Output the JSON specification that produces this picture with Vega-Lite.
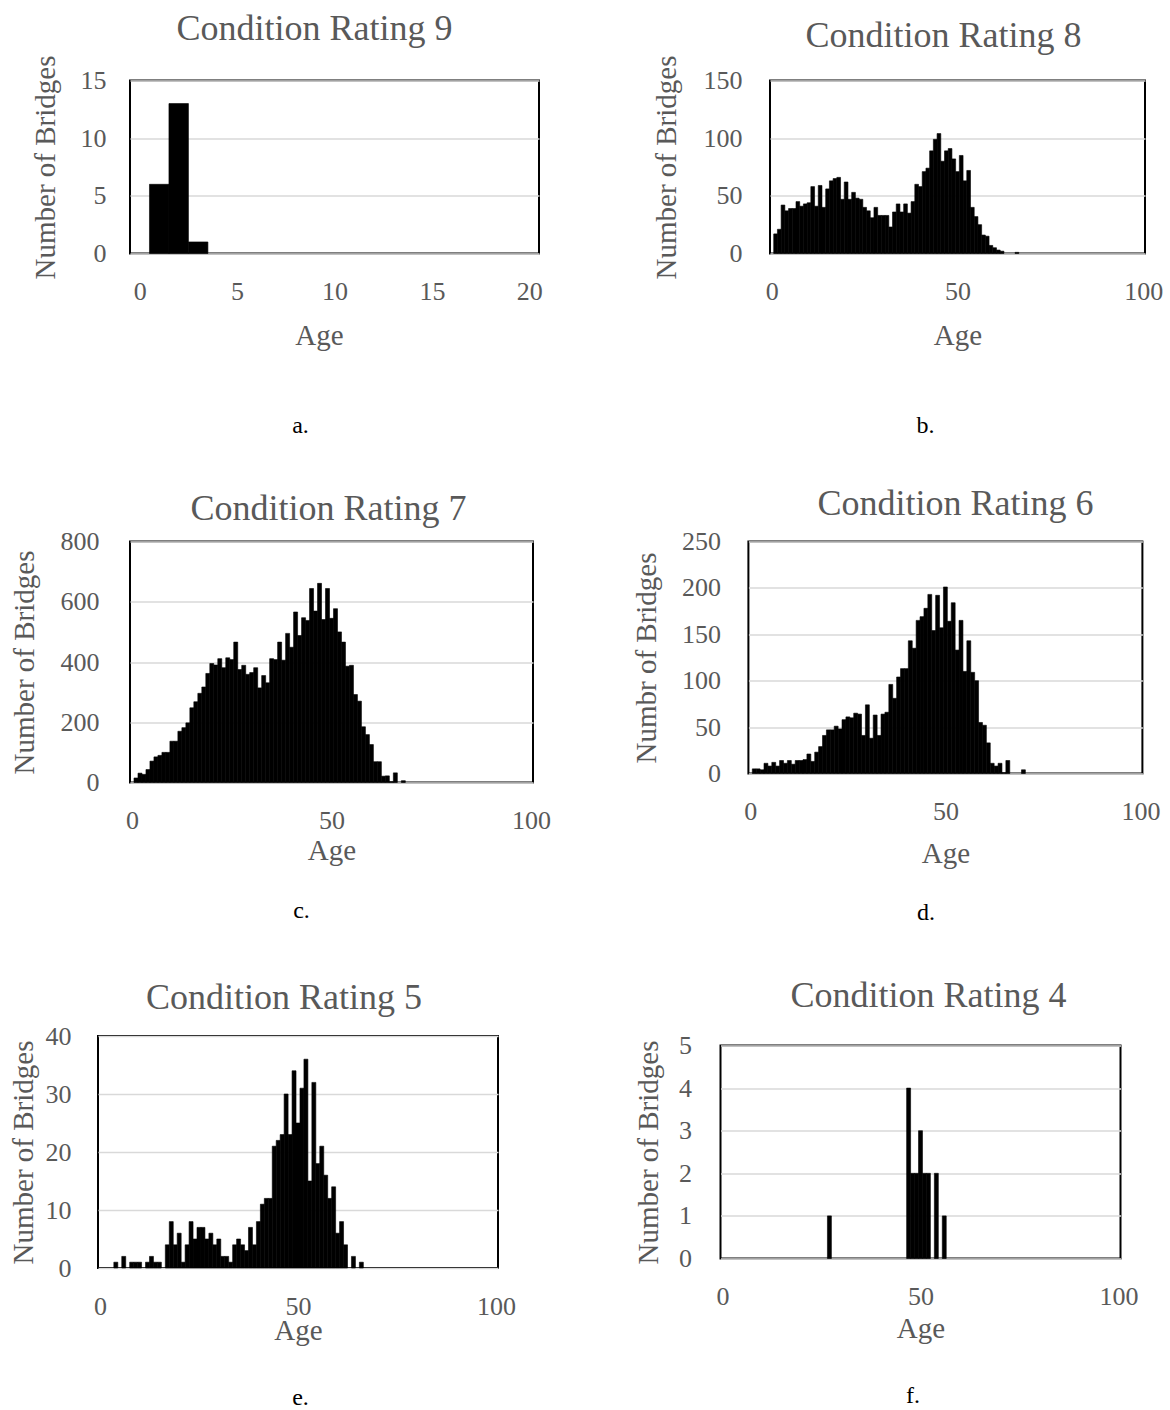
{
  "$schema": "https://vega.github.io/schema/vega-lite/v6.json",
  "background": "white",
  "padding": {"left": 0, "top": 9.5, "right": 0, "bottom": 0},
  "config": {
    "font": "Liberation Serif",
    "view": {"stroke": "#000", "strokeWidth": 2},
    "title": {"font": "Liberation Serif", "fontSize": 36, "fontWeight": "normal", "color": "#595959", "frame": "group", "anchor": "middle", "baseline": "alphabetic"},
    "axis": {"labelFont": "Liberation Serif", "titleFont": "Liberation Serif", "labelColor": "#595959", "titleColor": "#595959", "labelFontSize": 26, "titleFontSize": 29, "titleFontWeight": "normal", "ticks": false, "tickSize": 0, "domain": false, "grid": false, "labelFlush": false, "labelOverlap": false},
    "axisY": {"grid": true, "gridColor": "#d9d9d9", "gridWidth": 1.5, "titlePadding": 0}
  },
  "datasets": {
    "r9": [{"age":1,"count":6},{"age":2,"count":13},{"age":3,"count":1}],
    "r8": [{"age":1,"count":17},{"age":2,"count":21},{"age":3,"count":42},{"age":4,"count":37},{"age":5,"count":39},{"age":6,"count":39},{"age":7,"count":45},{"age":8,"count":41},{"age":9,"count":43},{"age":10,"count":44},{"age":11,"count":58},{"age":12,"count":41},{"age":13,"count":59},{"age":14,"count":40},{"age":15,"count":56},{"age":16,"count":63},{"age":17,"count":65},{"age":18,"count":66},{"age":19,"count":47},{"age":20,"count":62},{"age":21,"count":47},{"age":22,"count":53},{"age":23,"count":48},{"age":24,"count":47},{"age":25,"count":40},{"age":26,"count":37},{"age":27,"count":31},{"age":28,"count":40},{"age":29,"count":33},{"age":30,"count":33},{"age":31,"count":33},{"age":32,"count":23},{"age":33,"count":36},{"age":34,"count":43},{"age":35,"count":36},{"age":36,"count":43},{"age":37,"count":35},{"age":38,"count":45},{"age":39,"count":60},{"age":40,"count":58},{"age":41,"count":71},{"age":42,"count":74},{"age":43,"count":89},{"age":44,"count":99},{"age":45,"count":104},{"age":46,"count":80},{"age":47,"count":89},{"age":48,"count":91},{"age":49,"count":82},{"age":50,"count":71},{"age":51,"count":85},{"age":52,"count":63},{"age":53,"count":72},{"age":54,"count":40},{"age":55,"count":32},{"age":56,"count":25},{"age":57,"count":16},{"age":58,"count":15},{"age":59,"count":7},{"age":60,"count":5},{"age":61,"count":3},{"age":62,"count":2},{"age":66,"count":1}],
    "r7": [{"age":1,"count":15},{"age":2,"count":31},{"age":3,"count":27},{"age":4,"count":43},{"age":5,"count":71},{"age":6,"count":85},{"age":7,"count":90},{"age":8,"count":100},{"age":9,"count":100},{"age":10,"count":137},{"age":11,"count":137},{"age":12,"count":170},{"age":13,"count":182},{"age":14,"count":198},{"age":15,"count":248},{"age":16,"count":268},{"age":17,"count":296},{"age":18,"count":317},{"age":19,"count":362},{"age":20,"count":395},{"age":21,"count":390},{"age":22,"count":411},{"age":23,"count":381},{"age":24,"count":414},{"age":25,"count":408},{"age":26,"count":466},{"age":27,"count":375},{"age":28,"count":389},{"age":29,"count":359},{"age":30,"count":365},{"age":31,"count":381},{"age":32,"count":314},{"age":33,"count":355},{"age":34,"count":331},{"age":35,"count":411},{"age":36,"count":408},{"age":37,"count":466},{"age":38,"count":406},{"age":39,"count":495},{"age":40,"count":449},{"age":41,"count":566},{"age":42,"count":488},{"age":43,"count":547},{"age":44,"count":538},{"age":45,"count":644},{"age":46,"count":569},{"age":47,"count":661},{"age":48,"count":541},{"age":49,"count":644},{"age":50,"count":545},{"age":51,"count":577},{"age":52,"count":500},{"age":53,"count":466},{"age":54,"count":386},{"age":55,"count":389},{"age":56,"count":292},{"age":57,"count":270},{"age":58,"count":185},{"age":59,"count":159},{"age":60,"count":126},{"age":61,"count":69},{"age":62,"count":69},{"age":63,"count":21},{"age":64,"count":22},{"age":65,"count":3},{"age":66,"count":32},{"age":68,"count":6}],
    "r6": [{"age":1,"count":5},{"age":2,"count":5},{"age":3,"count":4},{"age":4,"count":11},{"age":5,"count":8},{"age":6,"count":12},{"age":7,"count":8},{"age":8,"count":14},{"age":9,"count":11},{"age":10,"count":14},{"age":11,"count":10},{"age":12,"count":14},{"age":13,"count":14},{"age":14,"count":15},{"age":15,"count":21},{"age":16,"count":13},{"age":17,"count":23},{"age":18,"count":29},{"age":19,"count":41},{"age":20,"count":47},{"age":21,"count":47},{"age":22,"count":51},{"age":23,"count":48},{"age":24,"count":58},{"age":25,"count":61},{"age":26,"count":60},{"age":27,"count":65},{"age":28,"count":64},{"age":29,"count":41},{"age":30,"count":74},{"age":31,"count":38},{"age":32,"count":63},{"age":33,"count":41},{"age":34,"count":64},{"age":35,"count":66},{"age":36,"count":96},{"age":37,"count":81},{"age":38,"count":104},{"age":39,"count":113},{"age":40,"count":113},{"age":41,"count":143},{"age":42,"count":135},{"age":43,"count":165},{"age":44,"count":169},{"age":45,"count":178},{"age":46,"count":193},{"age":47,"count":154},{"age":48,"count":192},{"age":49,"count":157},{"age":50,"count":201},{"age":51,"count":164},{"age":52,"count":184},{"age":53,"count":133},{"age":54,"count":165},{"age":55,"count":110},{"age":56,"count":143},{"age":57,"count":109},{"age":58,"count":100},{"age":59,"count":55},{"age":60,"count":52},{"age":61,"count":33},{"age":62,"count":11},{"age":63,"count":8},{"age":64,"count":11},{"age":65,"count":1},{"age":66,"count":14},{"age":70,"count":4}],
    "r5": [{"age":4,"count":1},{"age":6,"count":2},{"age":8,"count":1},{"age":9,"count":1},{"age":10,"count":1},{"age":12,"count":1},{"age":13,"count":2},{"age":14,"count":1},{"age":15,"count":1},{"age":17,"count":4},{"age":18,"count":8},{"age":19,"count":4},{"age":20,"count":6},{"age":21,"count":1},{"age":22,"count":4},{"age":23,"count":8},{"age":24,"count":5},{"age":25,"count":7},{"age":26,"count":7},{"age":27,"count":5},{"age":28,"count":6},{"age":29,"count":4},{"age":30,"count":5},{"age":31,"count":2},{"age":32,"count":2},{"age":33,"count":1},{"age":34,"count":4},{"age":35,"count":5},{"age":36,"count":4},{"age":37,"count":3},{"age":38,"count":7},{"age":39,"count":4},{"age":40,"count":8},{"age":41,"count":11},{"age":42,"count":12},{"age":43,"count":12},{"age":44,"count":21},{"age":45,"count":22},{"age":46,"count":23},{"age":47,"count":30},{"age":48,"count":23},{"age":49,"count":34},{"age":50,"count":25},{"age":51,"count":31},{"age":52,"count":36},{"age":53,"count":15},{"age":54,"count":32},{"age":55,"count":18},{"age":56,"count":21},{"age":57,"count":16},{"age":58,"count":12},{"age":59,"count":14},{"age":60,"count":6},{"age":61,"count":8},{"age":62,"count":4},{"age":64,"count":2},{"age":66,"count":1}],
    "r4": [{"age":27,"count":1},{"age":47,"count":4},{"age":48,"count":2},{"age":49,"count":2},{"age":50,"count":3},{"age":51,"count":2},{"age":52,"count":2},{"age":54,"count":2},{"age":56,"count":1}],
    "none": []
  },
  "spacing": 46,
  "vconcat": [
    {
      "spacing": 0,
      "hconcat": [
        {"width": 30, "height": 1, "data": {"name": "none"}, "mark": "point", "view": {"stroke": null}},
        {
          "hconcat": [
            {
              "width": 409, "height": 173,
              "data": {"name": "r9"},
              "title": {"text": "Condition Rating 9", "offset": 7, "dx": -20},
              "layer": [
                {"mark": {"type": "bar", "width": 19.48, "color": "#000", "stroke": "#000", "strokeWidth": 0.6},
                 "encoding": {
                   "x": {"field": "age", "type": "quantitative", "scale": {"domain": [-0.5, 20.5], "nice": false, "zero": false, "padding": 0}, "axis": {"values": [0,5,10,15,20], "title": "Age", "titleX": 189, "labelPadding": 24.5, "titlePadding": 17.5}},
                   "y": {"field": "count", "type": "quantitative", "scale": {"domain": [0, 15], "nice": false}, "axis": {"values": [0,5,10,15], "title": "Number of Bridges", "labelPadding": 24, "minExtent": 70, "maxExtent": 70}}
                 }},
                {"mark": {"type": "rule", "strokeOpacity": 0},
                 "encoding": {"x": {"field": "age", "type": "quantitative", "axis": {"orient": "bottom", "offset": 160, "title": "a.", "titleX": 170, "labels": false, "titleColor": "#000", "titleFontSize": 24, "titlePadding": 0}}}}
              ],
              "resolve": {"axis": {"x": "independent"}}
            },
            {
              "width": 375, "height": 173,
              "data": {"name": "r8"},
              "title": {"text": "Condition Rating 8", "offset": 0, "dx": -14},
              "layer": [
                {"mark": {"type": "bar", "width": 3.71, "color": "#000", "stroke": "#000", "strokeWidth": 0.6},
                 "encoding": {
                   "x": {"field": "age", "type": "quantitative", "scale": {"domain": [-0.5, 100.5], "nice": false, "zero": false, "padding": 0}, "axis": {"values": [0,50,100], "title": "Age", "labelPadding": 24.5, "titlePadding": 17.5}},
                   "y": {"field": "count", "type": "quantitative", "scale": {"domain": [0, 150], "nice": false}, "axis": {"values": [0,50,100,150], "title": "Number of Bridges", "labelPadding": 28, "minExtent": 89, "maxExtent": 89}}
                 }},
                {"mark": {"type": "rule", "strokeOpacity": 0},
                 "encoding": {"x": {"field": "age", "type": "quantitative", "axis": {"orient": "bottom", "offset": 160, "title": "b.", "titleX": 155, "labels": false, "titleColor": "#000", "titleFontSize": 24, "titlePadding": 0}}}}
              ],
              "resolve": {"axis": {"x": "independent"}}
            }
          ],
          "bounds": "flush",
          "spacing": 231
        }
      ]
    },
    {
      "spacing": 50.5,
      "vconcat": [
        {
          "spacing": 0,
          "hconcat": [
            {"width": 8.3, "height": 1, "data": {"name": "none"}, "mark": "point", "view": {"stroke": null}},
            {
              "hconcat": [
                {
                  "width": 403, "height": 241,
                  "data": {"name": "r7"},
                  "title": {"text": "Condition Rating 7", "offset": 1, "dx": -3},
                  "layer": [
                    {"mark": {"type": "bar", "width": 3.99, "color": "#000", "stroke": "#000", "strokeWidth": 0.6},
                     "encoding": {
                       "x": {"field": "age", "type": "quantitative", "scale": {"domain": [-0.5, 100.5], "nice": false, "zero": false, "padding": 0}, "axis": {"values": [0,50,100], "title": "Age", "labelPadding": 24.5, "titlePadding": 3.5}},
                       "y": {"field": "count", "type": "quantitative", "scale": {"domain": [0, 800], "nice": false}, "axis": {"values": [0,200,400,600,800], "title": "Number of Bridges", "labelPadding": 31, "minExtent": 91, "maxExtent": 91}}
                     }},
                    {"mark": {"type": "rule", "strokeOpacity": 0},
                     "encoding": {"x": {"field": "age", "type": "quantitative", "axis": {"orient": "bottom", "offset": 116, "title": "c.", "titleX": 171, "labels": false, "titleColor": "#000", "titleFontSize": 24, "titlePadding": 0}}}}
                  ],
                  "resolve": {"axis": {"x": "independent"}}
                },
                {
                  "width": 394, "height": 232,
                  "data": {"name": "r6"},
                  "title": {"text": "Condition Rating 6", "offset": 6, "dx": 10},
                  "layer": [
                    {"mark": {"type": "bar", "width": 3.9, "color": "#000", "stroke": "#000", "strokeWidth": 0.6},
                     "encoding": {
                       "x": {"field": "age", "type": "quantitative", "scale": {"domain": [-0.5, 100.5], "nice": false, "zero": false, "padding": 0}, "axis": {"values": [0,50,100], "title": "Age", "labelPadding": 24.5, "titlePadding": 15.5}},
                       "y": {"field": "count", "type": "quantitative", "scale": {"domain": [0, 250], "nice": false}, "axis": {"values": [0,50,100,150,200,250], "title": "Numbr of Bridges", "labelPadding": 28, "minExtent": 87, "maxExtent": 87}}
                     }},
                    {"mark": {"type": "rule", "strokeOpacity": 0},
                     "encoding": {"x": {"field": "age", "type": "quantitative", "axis": {"orient": "bottom", "offset": 127, "title": "d.", "titleX": 177, "labels": false, "titleColor": "#000", "titleFontSize": 24, "titlePadding": 0}}}}
                  ],
                  "resolve": {"axis": {"x": "independent"}}
                }
              ],
              "bounds": "flush",
              "spacing": 215.4
            }
          ]
        },
        {
          "spacing": 0,
          "hconcat": [
            {"width": 7.5, "height": 1, "data": {"name": "none"}, "mark": "point", "view": {"stroke": null}},
            {
              "hconcat": [
                {
                  "width": 400, "height": 232,
                  "data": {"name": "r5"},
                  "title": {"text": "Condition Rating 5", "offset": 6, "dx": -14},
                  "layer": [
                    {"mark": {"type": "bar", "width": 3.96, "color": "#000", "stroke": "#000", "strokeWidth": 0.6},
                     "encoding": {
                       "x": {"field": "age", "type": "quantitative", "scale": {"domain": [-0.5, 100.5], "nice": false, "zero": false, "padding": 0}, "axis": {"values": [0,50,100], "title": "Age", "labelPadding": 25.5, "titlePadding": -3.5}},
                       "y": {"field": "count", "type": "quantitative", "scale": {"domain": [0, 40], "nice": false}, "axis": {"values": [0,10,20,30,40], "title": "Number of Bridges", "labelPadding": 27, "minExtent": 60, "maxExtent": 60}}
                     }},
                    {"mark": {"type": "rule", "strokeOpacity": 0},
                     "encoding": {"x": {"field": "age", "type": "quantitative", "axis": {"orient": "bottom", "offset": 117, "title": "e.", "titleX": 202, "labels": false, "titleColor": "#000", "titleFontSize": 24, "titlePadding": 0}}}}
                  ],
                  "resolve": {"axis": {"x": "independent"}}
                },
                {
                  "width": 400, "height": 213,
                  "data": {"name": "r4"},
                  "title": {"text": "Condition Rating 4", "offset": 18, "dx": 8},
                  "layer": [
                    {"mark": {"type": "bar", "width": 3.96, "color": "#000", "stroke": "#000", "strokeWidth": 0.6},
                     "encoding": {
                       "x": {"field": "age", "type": "quantitative", "scale": {"domain": [-0.5, 100.5], "nice": false, "zero": false, "padding": 0}, "axis": {"values": [0,50,100], "title": "Age", "labelPadding": 24.5, "titlePadding": 5.5}},
                       "y": {"field": "count", "type": "quantitative", "scale": {"domain": [0, 5], "nice": false}, "axis": {"values": [0,1,2,3,4,5], "title": "Number of Bridges", "labelPadding": 29, "minExtent": 57, "maxExtent": 57}}
                     }},
                    {"mark": {"type": "rule", "strokeOpacity": 0},
                     "encoding": {"x": {"field": "age", "type": "quantitative", "axis": {"orient": "bottom", "offset": 125, "title": "f.", "titleX": 192, "labels": false, "titleColor": "#000", "titleFontSize": 24, "titlePadding": 0}}}}
                  ],
                  "resolve": {"axis": {"x": "independent"}}
                }
              ],
              "bounds": "flush",
              "center": true,
              "spacing": 222.5
            }
          ]
        }
      ]
    }
  ]
}
